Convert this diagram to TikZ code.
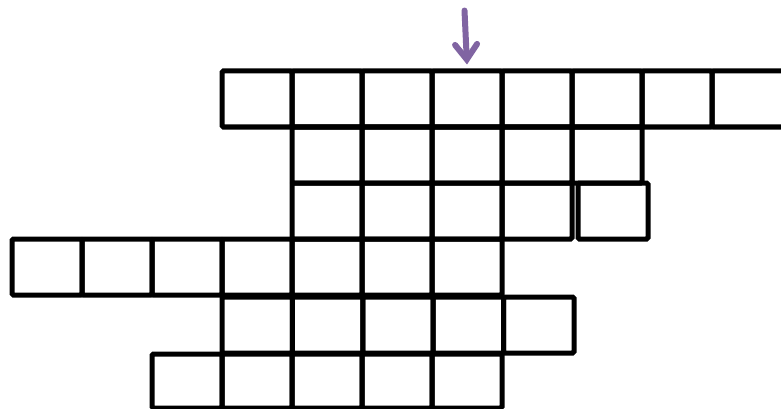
\documentclass[tikz,border=0pt]{standalone}
\usetikzlibrary{arrows.meta}
\definecolor{arrowpurple}{RGB}{128,100,162}
\tikzset{
  cell/.style={draw=black, line width=5pt, rounded corners=1.5pt, inner sep=0pt,
    minimum width=70pt, minimum height=56pt, anchor=north west},
  pointer/.style={draw=arrowpurple, line width=6pt,
    -{Straight Barb[length=15pt,width=22pt,line cap=round]}, line cap=round}
}
\begin{document}
\begin{tikzpicture}[x=1pt,y=-1pt]
\useasboundingbox (0,0) rectangle (781,409);
\fill[white] (0,0) rectangle (781,409);
\begin{scope}[shift={(-1.5,-1.5)}]
% row 1
\foreach \i in {1,...,7} {
  \node[cell] (r1c\i) at ({221+70*(\i-1)},70) {};
}
\node[cell, minimum width=75pt] (r1c8) at (711,70) {};
% row 2
\foreach \i in {1,...,5} {
  \node[cell] (r2c\i) at ({291+70*(\i-1)},126) {};
}
% row 3
\foreach \i in {1,...,4} {
  \node[cell] (r3c\i) at ({291+70*(\i-1)},182) {};
}
\node[cell] (r3c5) at (577,182) {};
% row 4
\foreach \i in {1,...,7} {
  \node[cell] (r4c\i) at ({11+70*(\i-1)},238) {};
}
% row 5
\foreach \i in {1,...,5} {
  \node[cell, minimum width=70.4pt] (r5c\i) at ({221+70.4*(\i-1)},296) {};
}
% row 6
\foreach \i in {1,...,5} {
  \node[cell, minimum height=54pt] (r6c\i) at ({151+70*(\i-1)},353) {};
}
% arrow
\coordinate (arrowtop) at (466,12);
\draw[pointer] (arrowtop) -- ([yshift=4pt]r1c4.north);
\end{scope}
\end{tikzpicture}
\end{document}
